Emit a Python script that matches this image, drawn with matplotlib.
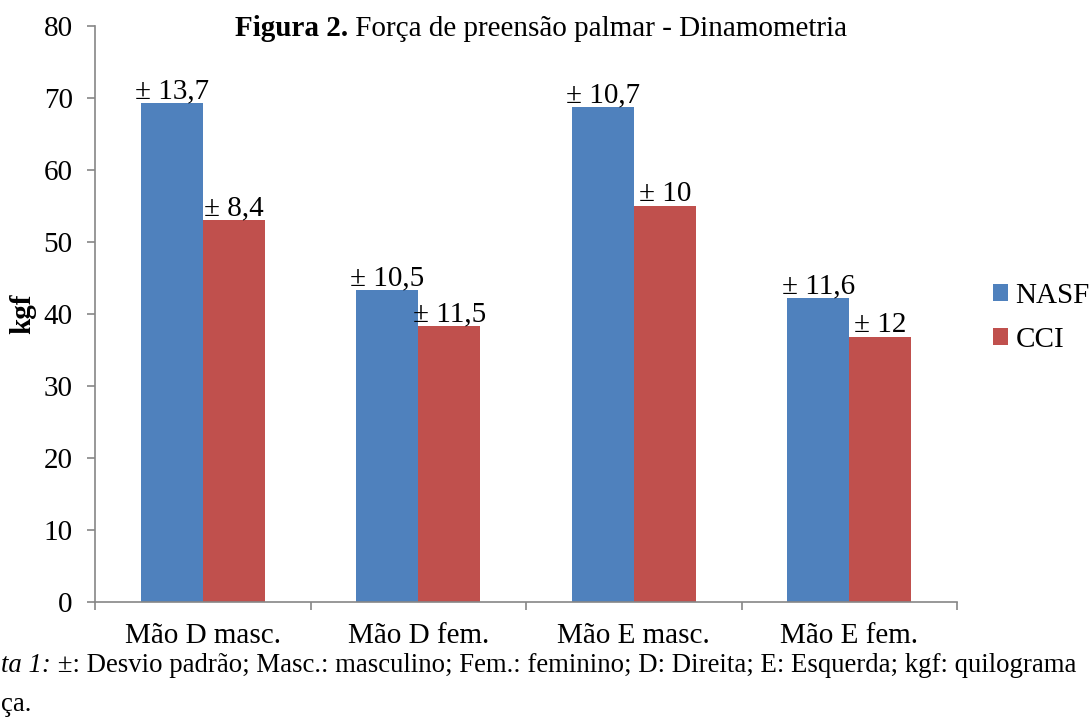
import matplotlib
matplotlib.use("Agg")
import matplotlib.pyplot as plt
import numpy as np

plt.rcParams["font.family"] = ["Liberation Serif", "DejaVu Serif"]
plt.rcParams["font.size"] = 21

categories = ["Mão D masc.", "Mão D fem.", "Mão E masc.", "Mão E fem."]
nasf = [69.3, 43.4, 68.7, 42.2]
cci = [53.1, 38.3, 55.0, 36.8]
nasf_sd = ["± 13,7", "± 10,5", "± 10,7", "± 11,6"]
cci_sd = ["± 8,4", "± 11,5", "± 10", "± 12"]

blue = "#4F81BD"
red = "#C0504D"
gray = "#868686"

W, H = 1090, 718
fig = plt.figure(figsize=(W / 100, H / 100), dpi=100)
ax = fig.add_axes([95 / W, 1 - 602 / H, 862 / W, 576 / H])

x = np.arange(len(categories))
w = 0.288
b1 = ax.bar(x - w / 2, nasf, w, color=blue, label="NASF")
b2 = ax.bar(x + w / 2, cci, w, color=red, label="CCI")

for bars, labels in [(b1, nasf_sd), (b2, cci_sd)]:
    for bar, lab in zip(bars, labels):
        ax.annotate(lab, (bar.get_x() + bar.get_width() / 2, bar.get_height()),
                    xytext=(0, -1), textcoords="offset points",
                    ha="center", va="bottom")

ax.set_xlim(-0.5, 3.5)
ax.set_ylim(0, 80)
ax.set_yticks(np.arange(0, 81, 10))
ax.set_xticks(np.arange(-0.5, 4.0, 1.0))
ax.set_xticklabels([])
ax.set_xticks(x, minor=True)
ax.set_xticklabels(categories, minor=True)
ax.tick_params(axis="x", which="minor", length=0, pad=15)
ax.tick_params(axis="x", which="major", length=6, color=gray, width=1.2)
ax.tick_params(axis="y", length=6, color=gray, width=1.2, pad=10)

for s in ["top", "right"]:
    ax.spines[s].set_visible(False)
for s in ["left", "bottom"]:
    ax.spines[s].set_color(gray)
    ax.spines[s].set_linewidth(1.2)

ax.set_ylabel("kgf", fontweight="bold")
ax.yaxis.set_label_coords(-0.068, 0.5)

fig.legend(handles=[b1, b2], loc="center left", bbox_to_anchor=(993 / W, 1 - 318 / H),
           frameon=False, handlelength=0.52, handleheight=0.52,
           handletextpad=0.25, labelspacing=0.6, borderpad=0, borderaxespad=0)

# title: bold part + normal part, centred together
fig.canvas.draw()
r = fig.canvas.get_renderer()
ty = 1 - 36 / H
t1 = fig.text(0, ty, "Figura 2.", fontweight="bold", va="baseline")
t2 = fig.text(0, ty, " Força de preensão palmar - Dinamometria", va="baseline")
w1 = t1.get_window_extent(r).width
w2 = t2.get_window_extent(r).width
start = 541 - (w1 + w2) / 2
t1.set_x(start / W)
t2.set_x((start + w1) / W)

# footnote, as much of it as the original shows
fs = 19.3
fy1 = 1 - 672 / H
fy2 = 1 - 711 / H
n1 = fig.text(1 / W, fy1, "ta 1:", style="italic", va="baseline", fontsize=fs)
wn = n1.get_window_extent(r).width
fig.text((1 + wn) / W, fy1,
         " ±: Desvio padrão; Masc.: masculino; Fem.: feminino; D: Direita; E: Esquerda; kgf: quilograma",
         va="baseline", fontsize=fs)
fig.text(1 / W, fy2, "ça.", va="baseline", fontsize=fs)

fig.savefig("out.png", dpi=100)
